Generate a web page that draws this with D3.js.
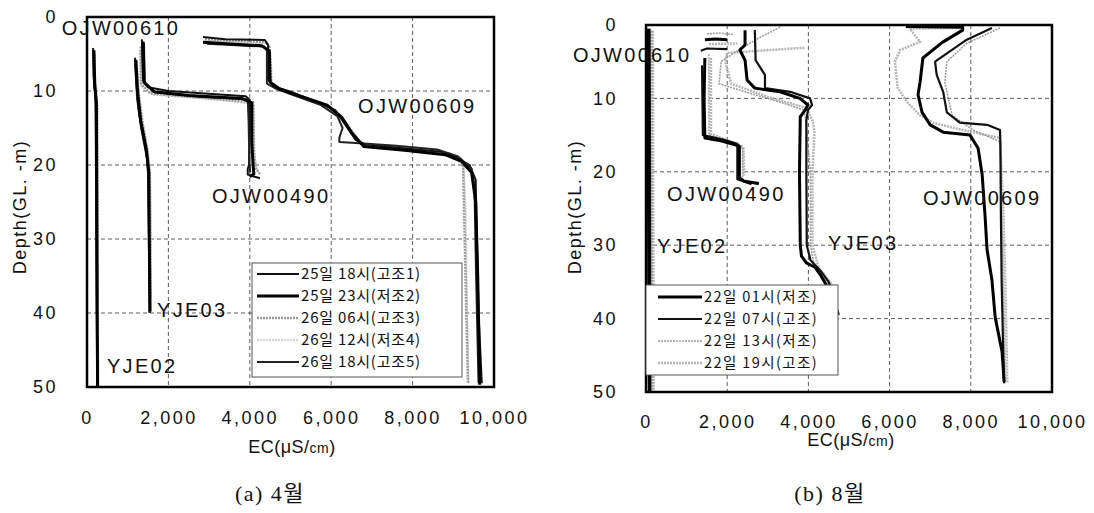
<!DOCTYPE html>
<html>
<head>
<meta charset="utf-8">
<script src="https://cdn.jsdelivr.net/npm/d3@7"></script>
<style>
body { margin: 0; background: #fff; }
svg text { font-family: "Liberation Sans", Arial, "Noto Sans CJK KR", sans-serif; fill: #111; }
</style>
</head>
<body>
<svg id="chart" width="1094" height="513"></svg>
<script>
// ---- data ----
var xTicks = [0, 2000, 4000, 6000, 8000, 10000];
var yTicks = [0, 10, 20, 30, 40, 50];

var aprSeries = ["25일 18시(고조1)", "25일 23시(저조2)", "26일 06시(고조3)", "26일 12시(저조4)", "26일 18시(고조5)"];
var augSeries = ["22일 01시(저조)", "22일 07시(고조)", "22일 13시(저조)", "22일 19시(고조)"];

// one profile per series, points are [EC, depth]
var aprYJE02 = [
    [[150, 4.2], [160, 8], [210, 11], [220, 20], [230, 30], [240, 40], [250, 50]],
    [[170, 4.5], [190, 9], [230, 11.5], [240, 25], [250, 40], [260, 50]],
    [[180, 5], [200, 10], [250, 12], [260, 30], [270, 50]],
    [[190, 5], [210, 10], [260, 12], [270, 30], [280, 50]],
    [[160, 4.8], [180, 9], [220, 12], [235, 25], [245, 40], [255, 50]]
];
var aprYJE03 = [
    [[1180, 5.5], [1200, 8], [1230, 10], [1280, 13], [1420, 17], [1500, 20], [1510, 25], [1520, 30], [1540, 40]],
    [[1200, 5.8], [1240, 10], [1320, 14], [1460, 18], [1520, 21], [1530, 30], [1550, 39.8]],
    [[1210, 6], [1260, 10], [1350, 14], [1480, 18], [1540, 21], [1560, 30], [1560, 38]],
    [[1230, 6], [1280, 10], [1370, 14], [1500, 18], [1560, 22], [1570, 35]],
    [[1190, 6.2], [1230, 11], [1330, 15], [1470, 19], [1510, 22], [1530, 32], [1540, 40]]
];
var aprOJW00490 = [
    [[1350, 3], [1360, 6], [1380, 8.5], [1500, 9.5], [2000, 10], [2800, 10.3], [3900, 10.7], [4000, 11.2], [4000, 15], [3980, 20], [3950, 20.5], [3950, 21.3], [4250, 21.8]],
    [[1380, 3.3], [1400, 8.8], [1650, 10.1], [2500, 10.6], [3800, 11], [4050, 11.6], [4050, 17], [4080, 20], [4100, 21.2], [4000, 21.6]],
    [[1320, 4], [1330, 9], [1550, 10.3], [3000, 11], [4080, 11.5], [4100, 18], [4150, 20.5], [4250, 21.2]],
    [[1300, 4.5], [1320, 9.3], [1600, 10.5], [3200, 11.2], [4100, 11.8], [4120, 19], [4180, 20.8]],
    [[1400, 3.6], [1420, 9], [1700, 10.2], [2900, 10.8], [3950, 11.1], [3970, 14], [3990, 19.5], [4010, 21]]
];
var aprOJW00609 = [
    [[2850, 2.7], [3400, 3.0], [4370, 3.1], [4450, 3.8], [4450, 8.5], [4600, 9.4], [5000, 10.1], [5700, 11.6], [6100, 12.6], [6350, 14.6], [6600, 16.6], [6830, 17.2], [7700, 17.7], [8700, 18.2], [9050, 18.9], [9400, 20], [9550, 22], [9580, 30], [9620, 40], [9700, 49.5]],
    [[2850, 3.4], [4300, 3.9], [4480, 4.6], [4500, 8.8], [4750, 9.8], [5300, 10.8], [5900, 11.9], [6250, 13.5], [6500, 15.6], [6800, 17.5], [7800, 18.0], [8800, 18.6], [9200, 19.5], [9450, 21], [9550, 25], [9600, 35], [9650, 49.7]],
    [[2900, 3.0], [4400, 3.4], [4480, 4], [4520, 9], [4800, 9.9], [5400, 11], [6000, 12.3], [6300, 14], [6600, 16.5], [6900, 17.5], [8000, 17.9], [8900, 18.4], [9200, 19.2], [9240, 20], [9280, 30], [9320, 40], [9360, 49.5]],
    [[2950, 3.2], [4420, 3.6], [4520, 5], [4550, 9.2], [5000, 10.3], [5600, 11.4], [6150, 12.8], [6450, 14.8], [6700, 16.8], [7000, 17.6], [8200, 18.1], [9000, 18.7], [9250, 19.6], [9300, 25], [9330, 35], [9380, 49.5]],
    [[2950, 3.6], [4350, 4.0], [4420, 4.5], [4420, 9], [4650, 9.7], [5100, 10.6], [5750, 11.9], [6150, 13.4], [6280, 15], [6200, 16.3], [6200, 16.9], [6800, 17.1], [7600, 17.4], [8600, 17.9], [9100, 18.8], [9450, 20.5], [9520, 23], [9560, 35], [9620, 49.5]]
];

var augYJE02 = [
    [[60, 0.5], [60, 20], [70, 40], [80, 50]],
    [[90, 0.5], [100, 20], [110, 50]],
    [[140, 0.8], [150, 25], [160, 50]],
    [[170, 0.8], [180, 25], [190, 50]]
];
var augOJW00610 = [
    [[1450, 2.0], [1700, 1.9], [2000, 2.0]],
    [[1350, 3.5], [1500, 3.2], [2000, 3.3]],
    [[1500, 1.2], [1800, 1.1], [2150, 1.3]],
    [[1550, 2.6], [2250, 2.5]]
];
var augOJW00490 = [
    [[1450, 4.5], [1430, 10], [1450, 15.4], [1870, 15.8], [2300, 16.5], [2300, 20.8], [2420, 21.3], [2780, 21.6]],
    [[1380, 5.5], [1400, 15], [1900, 15.6], [2250, 16.2], [2250, 21], [2600, 21.7]],
    [[1550, 4], [1550, 15], [2000, 15.8], [2380, 16.8], [2380, 21], [2750, 21.8]],
    [[1600, 4.5], [1600, 14.8], [2400, 16.6], [2420, 20.5]]
];
var augYJE03 = [
    [[2440, 0.7], [2440, 2.7], [2310, 3.4], [2440, 4.8], [2490, 7.5], [2680, 8.6], [3300, 9.1], [3790, 10], [3990, 10.9], [3920, 11.6], [3800, 12.5], [3780, 20], [3800, 30], [3830, 31.5], [3950, 32.4], [4160, 33], [4290, 34], [4450, 35.5]],
    [[2680, 0.7], [2700, 4.8], [2930, 6.8], [2930, 8.6], [3550, 9.1], [4040, 10], [4090, 10.9], [3990, 11.6], [3950, 13], [3950, 20], [3960, 30], [4050, 32], [4300, 33.5], [4500, 35], [4600, 37], [4750, 39.5]],
    [[3300, 0.3], [2700, 2], [2200, 3.7], [1850, 5], [1800, 8], [2500, 9.2], [3300, 10.5], [3900, 11.6], [3950, 14], [4050, 20], [4050, 30], [4150, 33], [4400, 34.5], [4550, 35.5]],
    [[3900, 3.1], [2800, 3.5], [2000, 3.8], [1950, 5], [2100, 8], [3000, 9.8], [3950, 11.3], [4100, 13], [4150, 14.5], [4100, 20], [4100, 30], [4250, 33], [4600, 35.5]]
];
var augOJW00609 = [
    [[6400, 0.2], [7800, 0.3], [7800, 0.7], [7290, 2.4], [6820, 4.5], [6750, 7.8], [6700, 9.5], [6800, 11.9], [7000, 13.6], [7320, 14.6], [7980, 15], [8180, 16.8], [8280, 20.4], [8350, 25.9], [8400, 30.6], [8520, 34.7], [8600, 39.8], [8770, 44.5], [8820, 48.6]],
    [[8520, 0.4], [7900, 2], [7120, 5], [7160, 6.8], [7320, 9.1], [7410, 11.9], [7730, 13.3], [8400, 13.6], [8720, 14.3], [8730, 16.8], [8740, 25], [8760, 35], [8800, 45], [8820, 48.8]],
    [[8720, 0.4], [7900, 2.5], [7410, 5], [7360, 7.8], [7540, 12.3], [8050, 14.3], [8720, 15.9], [8760, 25], [8800, 35], [8850, 48.8]],
    [[7800, 0.4], [6500, 0.5], [6750, 2.3], [6260, 3.4], [6130, 5], [6200, 8.6], [6430, 10.5], [6750, 12.3], [7070, 13.3], [7560, 14], [8050, 14.6], [8720, 15.4], [8800, 25], [8850, 35], [8900, 48.8]]
];

// well labels: [name, EC, depth] of the label's left edge
var aprLabels = [["OJW00610", -620, 1.5], ["OJW00490", 3070, 24.2], ["OJW00609", 6660, 12.0], ["YJE03", 1720, 39.6], ["YJE02", 490, 47.2]];
var augLabels = [["OJW00610", -1800, 4.1], ["OJW00490", 520, 23.0], ["YJE02", 270, 30.1], ["YJE03", 4480, 29.7], ["OJW00609", 6820, 23.6]];

// ---- styles ----
var aprStyles = [
    { color: "#111", width: 2, dash: null },
    { color: "#000", width: 3, dash: null },
    { color: "#9a9a9a", width: 2.5, dash: "2,1" },
    { color: "#c4c4c4", width: 1.5, dash: "2,1" },
    { color: "#222", width: 2, dash: null }
];
var augStyles = [
    { color: "#000", width: 3, dash: null },
    { color: "#111", width: 2.2, dash: null },
    { color: "#9a9a9a", width: 1.5, dash: "2,1" },
    { color: "#b5b5b5", width: 2.5, dash: "2,1" }
];

var svg = d3.select("#chart");

var drawPanel = function (cfg) {

    var x = d3.scaleLinear().domain([0, 10000]).range([cfg.left, cfg.right]);
    var y = d3.scaleLinear().domain([0, 50]).range([cfg.top, cfg.bottom]);
    var g = svg.append("g");

    // grid
    g.selectAll(".vg")
        .data(xTicks.slice(1, -1))
        .enter().append("line")
        .attr("x1", function (d) { return x(d); })
        .attr("x2", function (d) { return x(d); })
        .attr("y1", cfg.top)
        .attr("y2", cfg.bottom)
        .attr("stroke", "#333")
        .attr("stroke-width", 0.8)
        .attr("stroke-dasharray", "4,3");
    g.selectAll(".hg")
        .data(yTicks.slice(1, -1))
        .enter().append("line")
        .attr("x1", cfg.left)
        .attr("x2", cfg.right)
        .attr("y1", function (d) { return y(d); })
        .attr("y2", function (d) { return y(d); })
        .attr("stroke", "#333")
        .attr("stroke-width", 0.8)
        .attr("stroke-dasharray", "4,3");

    // profiles, grey ones first
    var line = d3.line()
        .x(function (d) { return x(d[0]); })
        .y(function (d) { return y(d[1]); });
    cfg.order.forEach(function (i) {
        var st = cfg.styles[i];
        cfg.wells.forEach(function (well) {
            g.append("path")
                .attr("d", line(well[i]))
                .attr("fill", "none")
                .attr("stroke", st.color)
                .attr("stroke-width", st.width)
                .attr("stroke-dasharray", st.dash)
                .attr("stroke-linejoin", "round");
        });
    });

    // frame
    g.append("rect")
        .attr("x", cfg.left)
        .attr("y", cfg.top)
        .attr("width", cfg.right - cfg.left)
        .attr("height", cfg.bottom - cfg.top)
        .attr("fill", "none")
        .attr("stroke", "#000")
        .attr("stroke-width", 2.5);

    // axes
    var xAxis = g.append("g")
        .attr("transform", "translate(0," + cfg.bottom + ")")
        .call(d3.axisBottom(x).tickValues(xTicks).tickSize(0).tickPadding(cfg.xPad).tickFormat(d3.format(",")));
    var yAxis = g.append("g")
        .attr("transform", "translate(" + cfg.left + ",0)")
        .call(d3.axisLeft(y).tickValues(yTicks).tickSize(0).tickPadding(cfg.yPad));
    [xAxis, yAxis].forEach(function (a) {
        a.select(".domain").remove();
        a.selectAll("text")
            .style("font-size", "18px")
            .style("letter-spacing", "2.5px")
            .attr("fill", "#111");
    });

    // well labels
    g.selectAll(".wl")
        .data(cfg.labels)
        .enter().append("text")
        .attr("x", function (d) { return x(d[1]); })
        .attr("y", function (d) { return y(d[2]); })
        .attr("dy", "0.36em")
        .style("font-size", "20px")
        .style("letter-spacing", "2.3px")
        .text(function (d) { return d[0]; });

    // axis titles
    var xt = g.append("text")
        .attr("x", cfg.xTitle[0])
        .attr("y", cfg.xTitle[1])
        .attr("text-anchor", "middle")
        .attr("dy", "0.36em")
        .style("font-size", "18px")
        .style("letter-spacing", "0.5px");
    xt.append("tspan").text("EC(μS/");
    xt.append("tspan").style("font-size", "14px").text("cm");
    xt.append("tspan").text(")");

    g.append("text")
        .attr("transform", "translate(" + cfg.yTitle[0] + "," + cfg.yTitle[1] + ") rotate(-90)")
        .attr("text-anchor", "middle")
        .attr("dy", "0.36em")
        .style("font-size", "18px")
        .style("letter-spacing", "1.5px")
        .text("Depth(GL. -m)");

    g.append("text")
        .attr("x", cfg.caption[0])
        .attr("y", cfg.caption[1])
        .attr("text-anchor", "middle")
        .attr("dy", "0.36em")
        .style("font-family", "'Liberation Serif', 'DejaVu Serif', 'Noto Sans CJK KR', serif")
        .style("font-size", "22px")
        .style("letter-spacing", "1.5px")
        .text(cfg.captionText);

    // legend
    var lg = g.append("g");
    lg.append("rect")
        .attr("x", cfg.legend.x)
        .attr("y", cfg.legend.y)
        .attr("width", cfg.legend.w)
        .attr("height", cfg.legend.h)
        .attr("fill", "#fff")
        .attr("stroke", "#555")
        .attr("stroke-width", 1);
    var rows = lg.selectAll(".row")
        .data(cfg.series)
        .enter().append("g")
        .attr("transform", function (d, i) {
            return "translate(0," + (cfg.legend.y + cfg.legend.first + i * cfg.legend.step) + ")";
        });
    rows.append("line")
        .attr("x1", cfg.legend.x + cfg.legend.l1)
        .attr("x2", cfg.legend.x + cfg.legend.l2)
        .attr("stroke", function (d, i) { return cfg.styles[i].color; })
        .attr("stroke-width", function (d, i) { return cfg.styles[i].width; })
        .attr("stroke-dasharray", function (d, i) { return cfg.styles[i].dash; });
    rows.append("text")
        .attr("x", cfg.legend.x + cfg.legend.l2 + 2)
        .attr("dy", "0.36em")
        .style("font-family", "'Noto Sans CJK KR', sans-serif")
        .style("font-size", cfg.legend.font + "px")
        .style("letter-spacing", cfg.legend.ls + "px")
        .text(function (d) { return d; });
};

drawPanel({
    left: 87, right: 494, top: 17, bottom: 387,
    xPad: 24, yPad: 29,
    wells: [aprYJE02, aprYJE03, aprOJW00490, aprOJW00609],
    styles: aprStyles,
    order: [3, 2, 0, 4, 1],
    series: aprSeries,
    labels: aprLabels,
    xTitle: [292, 447],
    yTitle: [20, 207],
    caption: [270, 493],
    captionText: "(a) 4월",
    legend: { x: 252, y: 263, w: 210, h: 114, first: 11, step: 22, l1: 5, l2: 47, font: 15, ls: 0.8 }
});

drawPanel({
    left: 646, right: 1052, top: 25, bottom: 392,
    xPad: 23, yPad: 28,
    wells: [augYJE02, augOJW00610, augOJW00490, augYJE03, augOJW00609],
    styles: augStyles,
    order: [3, 2, 1, 0],
    series: augSeries,
    labels: augLabels,
    xTitle: [851, 440],
    yTitle: [575, 207],
    caption: [830, 493],
    captionText: "(b) 8월",
    legend: { x: 646, y: 285, w: 192, h: 90, first: 12, step: 22, l1: 12, l2: 56, font: 14.5, ls: 1.4 }
});
</script>
</body>
</html>
